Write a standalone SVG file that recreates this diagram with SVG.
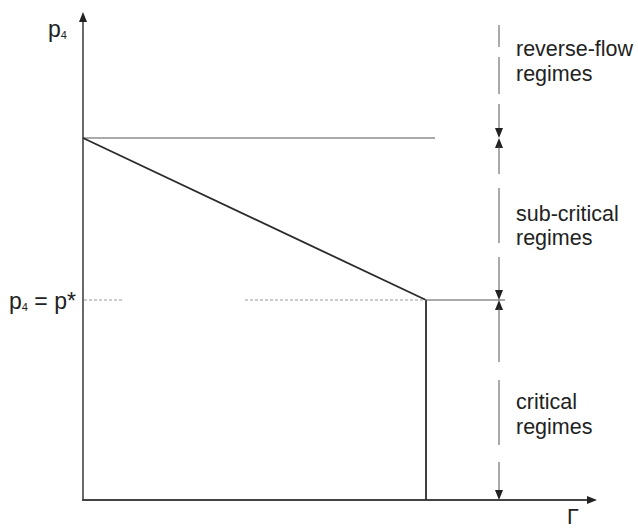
<svg xmlns="http://www.w3.org/2000/svg" width="638" height="529" viewBox="0 0 638 529">
<defs>
<style>
.t{font-family:"Liberation Sans",Arial,sans-serif;font-size:21.5px;fill:#222}
.p{font-size:23px}
.ax{stroke:#444;fill:none}
.thin{stroke:#555;stroke-width:1;fill:none}
.main{stroke:#2a2a2a;stroke-width:1.8;fill:none}
.dash{stroke:#999;stroke-width:1;stroke-dasharray:3 2;fill:none}
.dim{stroke:#555;stroke-width:1;fill:none}
.ah{fill:#222}
</style>
</defs>
<rect width="638" height="529" fill="#fff"/>
<g id="axes">
<line class="ax" x1="83" y1="20" x2="83" y2="500" stroke-width="1.6"/>
<polygon class="ah" points="83,12 79,22 87,22"/>
<line class="ax" x1="82" y1="500" x2="588" y2="500" stroke-width="2"/>
<polygon class="ah" points="597,500 587,496 587,504"/>
<text class="t p" x="48" y="37">p<tspan font-size="11" dy="2">4</tspan></text>
<text class="t" x="567" y="524">Γ</text>
</g>
<g id="curves">
<line class="thin" x1="83" y1="138" x2="435" y2="138"/>
<line class="main" x1="83" y1="138" x2="426" y2="300"/>
<line class="thin" x1="426" y1="300" x2="505" y2="300"/>
<line class="main" x1="426" y1="300" x2="426" y2="500" stroke-width="1.5"/>
<line class="dash" x1="84" y1="300" x2="122" y2="300"/>
<line class="dash" x1="245" y1="300" x2="426" y2="300"/>
<text class="t p" x="9" y="309">p<tspan font-size="11" dy="2">4</tspan><tspan dy="-2"> = p*</tspan></text>
</g>
<g id="connectors">
<line class="dim" x1="499" y1="25" x2="499" y2="47"/>
<line class="dim" x1="499" y1="57" x2="499" y2="94"/>
<line class="dim" x1="499" y1="104" x2="499" y2="130"/>
<polygon class="ah" points="499,138 495,128 503,128"/>
<polygon class="ah" points="499,138 495,148 503,148"/>
<line class="dim" x1="499" y1="146" x2="499" y2="174"/>
<line class="dim" x1="499" y1="188" x2="499" y2="243"/>
<line class="dim" x1="499" y1="257" x2="499" y2="292"/>
<polygon class="ah" points="499,300 495,290 503,290"/>
<polygon class="ah" points="499,300 495,310 503,310"/>
<line class="dim" x1="499" y1="308" x2="499" y2="362"/>
<line class="dim" x1="499" y1="380" x2="499" y2="445"/>
<line class="dim" x1="499" y1="462" x2="499" y2="492"/>
<polygon class="ah" points="499,500 495,490 503,490"/>
</g>
<g id="label-reverse">
<text class="t" x="516" y="56">reverse-flow</text>
<text class="t" x="516" y="81">regimes</text>
</g>
<g id="label-sub">
<text class="t" x="516" y="221">sub-critical</text>
<text class="t" x="516" y="245">regimes</text>
</g>
<g id="label-critical">
<text class="t" x="516" y="409">critical</text>
<text class="t" x="516" y="434">regimes</text>
</g>
</svg>
